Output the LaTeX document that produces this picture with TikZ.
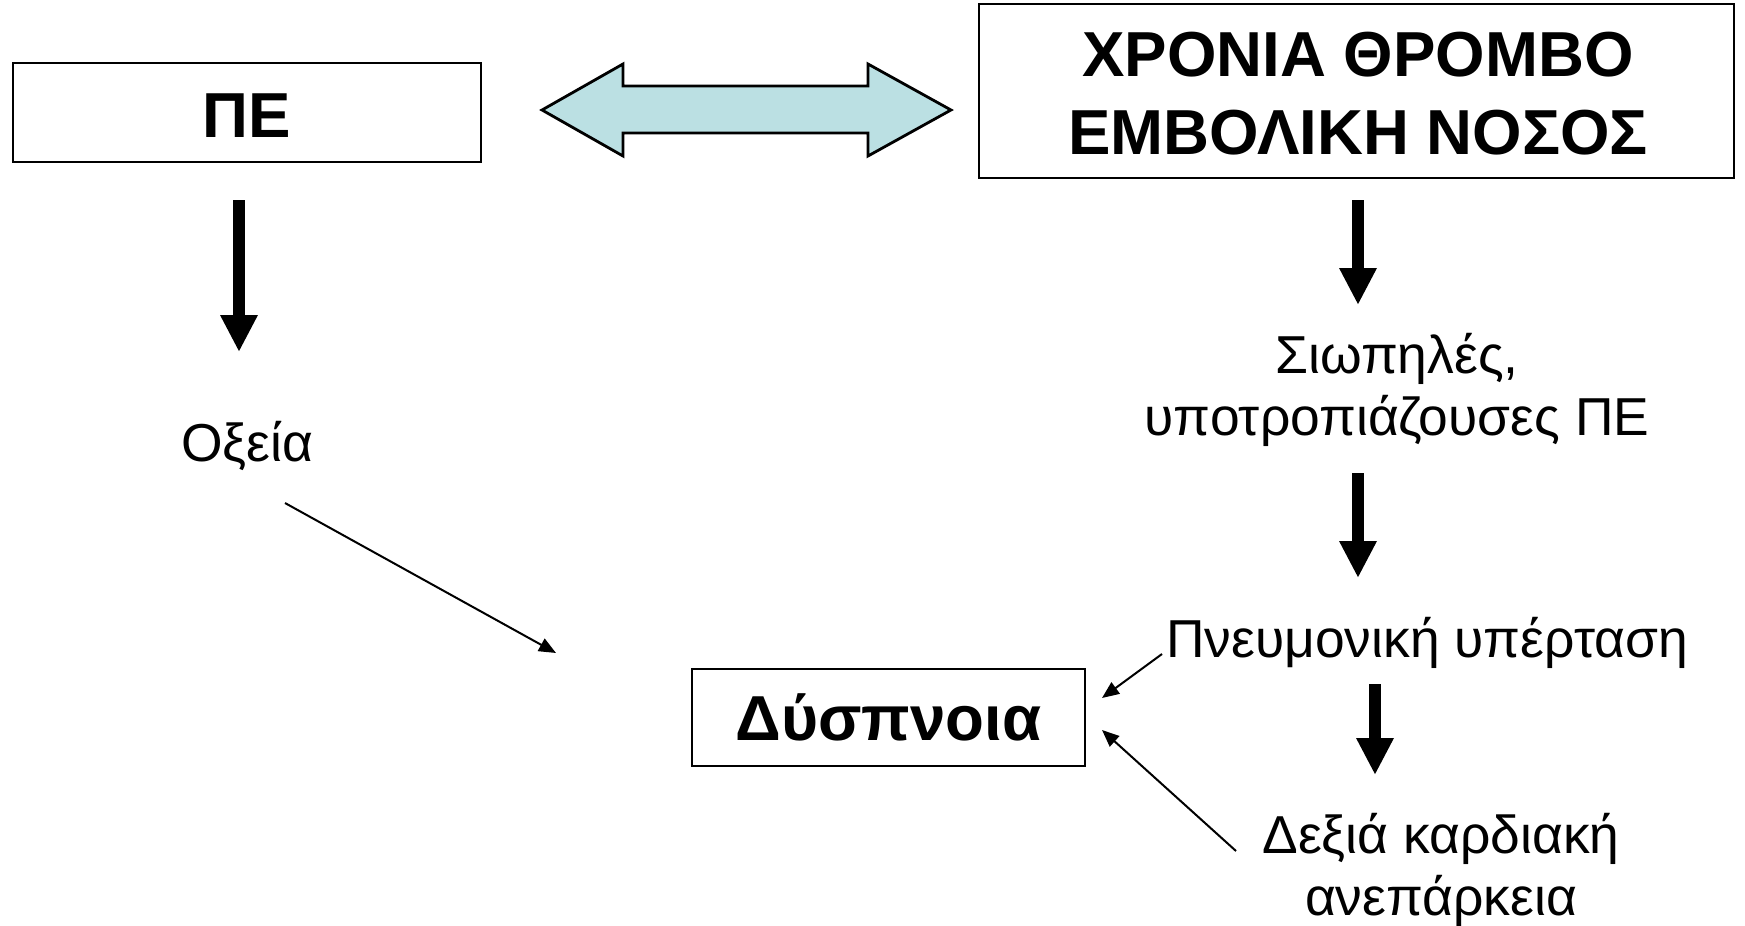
\documentclass[tikz,border=0pt]{standalone}
\usepackage{fontspec}
\setmainfont{Liberation Sans}
\usetikzlibrary{arrows.meta}
\definecolor{arrowfill}{HTML}{BBE0E3}
\tikzset{
  boxnode/.style={draw=black, line width=1pt, fill=white, inner sep=0pt},
  bigtext/.style={font=\fontsize{31.8}{39}\selectfont\bfseries, align=center, inner sep=0pt},
  plaintext/.style={font=\fontsize{26.7}{31}\selectfont, align=center, inner sep=0pt},
  thickarrow/.style={line width=6pt, -{Triangle[length=18.5pt,width=17.5pt]}},
  thinarrow/.style={line width=1pt, -{Triangle[length=8.5pt,width=7pt]}},
}
\begin{document}
\begin{tikzpicture}[x=0.5pt,y=-0.5pt]
\useasboundingbox[fill=white] (0,0) rectangle (1745,926);
% boxes
\node[boxnode, minimum width=234pt, minimum height=49.5pt] (pebox) at (247,112.5) {};
\node[bigtext, anchor=base] (pe) at (247,137) {ΠΕ};
\node[boxnode, minimum width=377.5pt, minimum height=87pt] (ctbox) at (1356.5,91) {};
\node[bigtext, anchor=base] (ct) at (1358,154) {ΧΡΟΝΙΑ ΘΡΟΜΒΟ\\ΕΜΒΟΛΙΚΗ ΝΟΣΟΣ};
\node[boxnode, minimum width=196.5pt, minimum height=48.5pt] (dbox) at (888.5,717.5) {};
\node[bigtext, anchor=base] (dys) at (888.5,740) {Δύσπνοια};
% texts
\node[plaintext, anchor=base] (oxeia) at (247,461) {Οξεία};
\node[plaintext, anchor=base] (siop) at (1397,435) {Σιωπηλές,\\υποτροπιάζουσες ΠΕ};
\node[plaintext, anchor=base] (pneum) at (1427,657) {Πνευμονική υπέρταση};
\node[plaintext, anchor=base] (dexia) at (1441,915) {Δεξιά καρδιακή\\ανεπάρκεια};
% double arrow
\coordinate (dl) at (542,110);
\coordinate (dr) at (951,110);
\draw[line width=1.4pt, fill=arrowfill, line join=miter]
  (dl) -- (623,64) -- (623,86) -- (868,86) -- (868,64) -- (dr)
  -- (868,156) -- (868,133) -- (623,133) -- (623,156) -- cycle;
% thick arrows
\coordinate (a1s) at (239,200); \coordinate (a1e) at (239,352);
\draw[thickarrow] (a1s) -- (a1e);
\coordinate (a2s) at (1358,200); \coordinate (a2e) at (1358,305);
\draw[thickarrow] (a2s) -- (a2e);
\coordinate (a3s) at (1358,473); \coordinate (a3e) at (1358,578);
\draw[thickarrow] (a3s) -- (a3e);
\coordinate (a4s) at (1375,684); \coordinate (a4e) at (1375,775);
\draw[thickarrow] (a4s) -- (a4e);
% thin arrows
\coordinate (t1s) at (285,503); \coordinate (t1e) at (556,653);
\draw[thinarrow] (t1s) -- (t1e);
\coordinate (t2s) at (1162,654); \coordinate (t2e) at (1102,698);
\draw[thinarrow] (t2s) -- (t2e);
\coordinate (t3s) at (1236,851); \coordinate (t3e) at (1102,730);
\draw[thinarrow] (t3s) -- (t3e);
\end{tikzpicture}
\end{document}
